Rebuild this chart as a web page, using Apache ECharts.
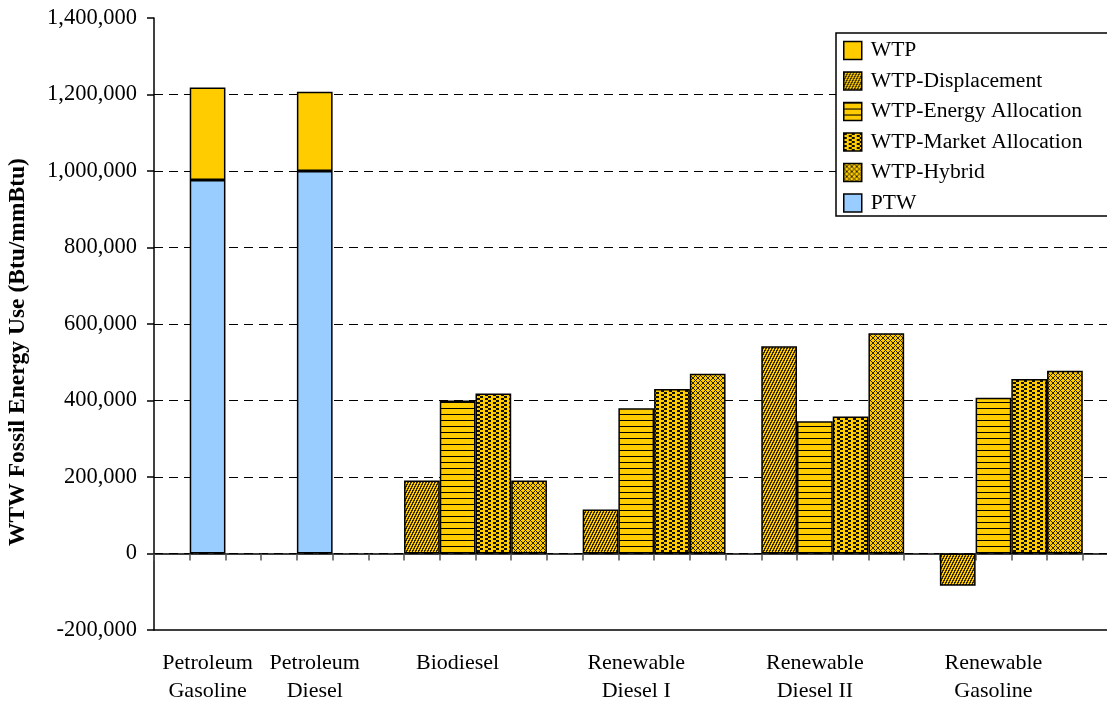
<!DOCTYPE html>
<html>
<head>
<meta charset="utf-8">
<script src="https://cdn.jsdelivr.net/npm/echarts@6/dist/echarts.min.js"></script>
<style>
  html, body { margin: 0; padding: 0; background: #fff; }
  #chart { width: 1107px; height: 707px; }
</style>
</head>
<body>
<div id="chart"></div>
<script>
// Fuel pathways (x-axis groups)
const fuels = ['Petroleum\nGasoline', 'Petroleum\nDiesel', 'Biodiesel',
               'Renewable\nDiesel I', 'Renewable\nDiesel II', 'Renewable\nGasoline'];

// Fossil energy use, Btu/mmBtu
const ptw             = [976500, 1000000, null, null, null, null];
const wtp             = [242000, 207000, null, null, null, null];
const wtpDisplacement = [null, null, 191000, 115000, 542000, -84000];
const wtpEnergy       = [null, null, 400000, 380000, 346000, 407000];
const wtpMarket       = [null, null, 418000, 430000, 358000, 456000];
const wtpHybrid       = [null, null, 191000, 470000, 576000, 478000];

// Y axis ticks
const yTicks = [-200000, 0, 200000, 400000, 600000, 800000, 1000000, 1200000, 1400000];

// Slot layout on the category axis: first slot of each group and slot count
const SLOT_COUNT = 27;
const groupStart = [1, 4, 7, 12, 17, 22];

const FONT = "'Liberation Serif', 'Times New Roman', serif";
const GOLD = '#FFCC00';

// Bitmap fill patterns
function makePattern(w, h, bg, fg, isOn) {
  const c = document.createElement('canvas');
  c.width = w; c.height = h;
  const ctx = c.getContext('2d');
  ctx.fillStyle = bg; ctx.fillRect(0, 0, w, h);
  ctx.fillStyle = fg;
  for (let y = 0; y < h; y++)
    for (let x = 0; x < w; x++)
      if (isOn(x, y)) ctx.fillRect(x, y, 1, 1);
  return { image: c, repeat: 'repeat' };
}
const patDisplacement = makePattern(3, 6, GOLD, '#3a2c00', (x, y) => ((2 * x + y) % 6) < 3);
const patEnergy = makePattern(4, 6, GOLD, '#000', (x, y) => y === 0);
const patMarket = makePattern(8, 4, GOLD, '#141000', (x, y) => {
  const band = Math.floor(y / 2);
  return ((x + band * 3) % 8) < 3;
});
const patHybrid = makePattern(5, 5, GOLD, '#2e2400', (x, y) => (x + y) % 5 === 0 || (x - y + 5) % 5 === 0);

// Build slot categories and per-slot data
const slotLabels = new Array(SLOT_COUNT).fill('');
function emptySlots() { return new Array(SLOT_COUNT).fill(null); }
const dPtw = emptySlots(), dWtp = emptySlots(), dDisp = emptySlots(),
      dEnergy = emptySlots(), dMarket = emptySlots(), dHybrid = emptySlots();
fuels.forEach((name, i) => {
  const s = groupStart[i];
  if (ptw[i] != null) {
    dPtw[s] = ptw[i];
    dWtp[s] = wtp[i];
    slotLabels[s] = name;
  } else {
    dDisp[s] = wtpDisplacement[i];
    dEnergy[s + 1] = wtpEnergy[i];
    dMarket[s + 2] = wtpMarket[i];
    dHybrid[s + 3] = wtpHybrid[i];
    slotLabels[s + 1] = name;
  }
});

const barBase = {
  type: 'bar',
  stack: 'total',
  barCategoryGap: '0%',
  xAxisIndex: 0,
  yAxisIndex: 0
};
function bar(name, data, color) {
  return Object.assign({}, barBase, {
    name, data,
    itemStyle: { color, borderColor: '#000', borderWidth: 1.5 }
  });
}

const chart = echarts.init(document.getElementById('chart'), null, { renderer: 'canvas' });
chart.setOption({
  animation: false,
  backgroundColor: '#fff',
  grid: {
    left: 154, width: 964.5, top: 18, bottom: 77,
    containLabel: false, outerBoundsMode: 'none'
  },
  legend: {
    orient: 'vertical',
    left: 836, top: 33,
    padding: [6.5, 40, 2, 7],
    itemWidth: 18, itemHeight: 18, itemGap: 8.5,
    icon: 'rect',
    borderColor: '#000', borderWidth: 1.5,
    backgroundColor: '#fff',
    itemStyle: { borderColor: '#000', borderWidth: 1.5 },
    textStyle: { fontFamily: FONT, fontSize: 21.6, color: '#000', lineHeight: 22, padding: [0, 0, 0, 4] },
    data: ['WTP', 'WTP-Displacement', 'WTP-Energy Allocation', 'WTP-Market Allocation', 'WTP-Hybrid', 'PTW']
  },
  xAxis: [
    {
      type: 'category',
      data: slotLabels,
      position: 'bottom',
      axisLine: { onZero: false, lineStyle: { color: '#000', width: 1.5 } },
      axisTick: { show: false },
      axisLabel: {
        interval: 0, margin: 19,
        fontFamily: FONT, fontSize: 22, color: '#000', lineHeight: 28
      },
      splitLine: { show: false }
    },
    {
      type: 'category',
      data: slotLabels,
      position: 'bottom',
      axisLine: { onZero: true, lineStyle: { color: '#000', width: 1.5 } },
      axisTick: { show: true, interval: 0, length: 7, lineStyle: { color: '#555', width: 1.5 } },
      axisLabel: { show: false },
      splitLine: { show: false }
    }
  ],
  yAxis: {
    type: 'value',
    min: yTicks[0], max: yTicks[yTicks.length - 1], interval: 200000,
    name: 'WTW Fossil Energy Use (Btu/mmBtu)',
    nameLocation: 'middle',
    nameRotate: 90,
    nameGap: 124,
    nameTextStyle: { fontFamily: FONT, fontSize: 23.5, fontWeight: 'bold', color: '#000', padding: [0, 56, 0, 0] },
    axisLine: { show: true, lineStyle: { color: '#000', width: 1.5 } },
    axisTick: { show: true, length: 7, lineStyle: { color: '#000', width: 1.5 } },
    axisLabel: {
      margin: 17, fontFamily: FONT, fontSize: 22.5, color: '#000',
      formatter: v => v.toLocaleString('en-US')
    },
    splitLine: {
      show: true, showMinLine: false, showMaxLine: false,
      lineStyle: { color: '#000', width: 1, type: [9, 6] }
    }
  },
  series: [
    bar('PTW', dPtw, '#99CCFF'),
    bar('WTP', dWtp, GOLD),
    bar('WTP-Displacement', dDisp, patDisplacement),
    bar('WTP-Energy Allocation', dEnergy, patEnergy),
    bar('WTP-Market Allocation', dMarket, patMarket),
    bar('WTP-Hybrid', dHybrid, patHybrid)
  ]
});
</script>
</body>
</html>
